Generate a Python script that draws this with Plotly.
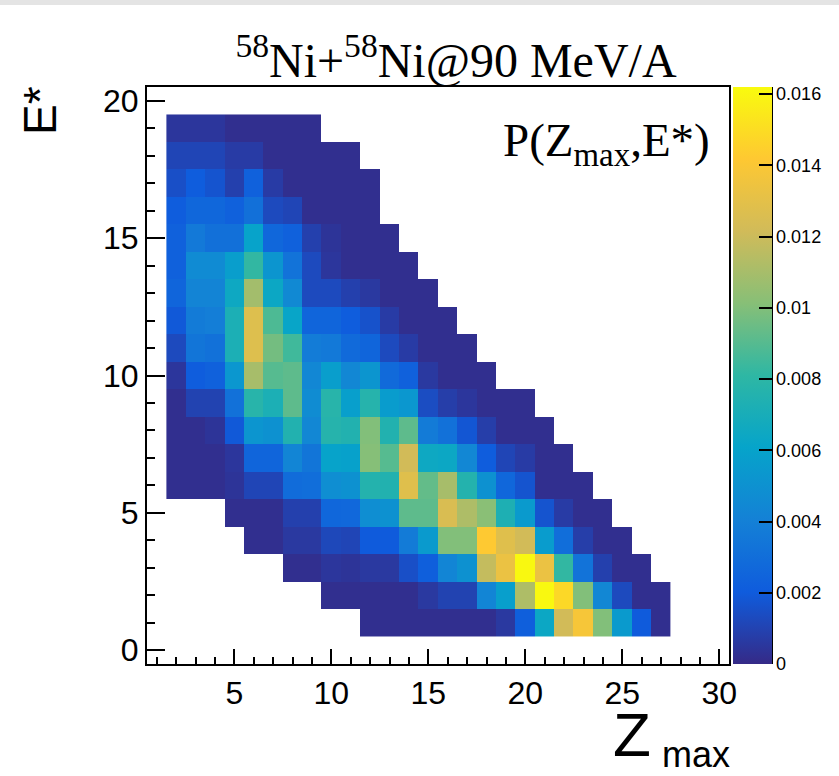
import plotly.graph_objects as go

# Bin centres
zmax_bins = list(range(2, 28))      # Z_max = 2 ... 27
estar_bins = list(range(1, 20))     # E* = 1 ... 19

# P(Z_max, E*) per E* row, in units of 1e-4, listed from Z_max = 2 to 27 (None = empty bin)
N = None
p_E19 = [5, 5, 5, 2, 2, 2, 2, 2] + [N] * 18
p_E18 = [11, 11, 11, 7, 7, 2, 2, 2, 2, 2] + [N] * 16
p_E17 = [15, 21, 17, 9, 23, 7, 2, 2, 2, 2, 2] + [N] * 15
p_E16 = [21, 26, 26, 23, 31, 13, 11, 2, 2, 2, 2] + [N] * 15
p_E15 = [23, 36, 31, 31, 60, 26, 23, 9, 4, 2, 2, 2] + [N] * 14
p_E14 = [23, 46, 46, 57, 82, 52, 33, 13, 5, 2, 2, 2, 2] + [N] * 13
p_E13 = [25, 42, 42, 65, 109, 64, 45, 13, 13, 9, 6, 2, 2, 2] + [N] * 12
p_E12 = [19, 37, 39, 72, 127, 88, 62, 25, 25, 21, 16, 7, 2, 2, 2] + [N] * 11
p_E11 = [13, 34, 32, 72, 127, 97, 85, 38, 36, 28, 25, 13, 7, 2, 2, 2] + [N] * 10
p_E10 = [5, 21, 23, 53, 110, 90, 92, 44, 57, 44, 52, 28, 23, 6, 2, 2, 2] + [N] * 9
p_E9 = [2, 10, 10, 32, 78, 72, 92, 47, 78, 58, 77, 56, 53, 14, 8, 5, 2, 2, 2] + [N] * 7
p_E8 = [2, 2, 4, 19, 52, 50, 75, 44, 77, 75, 100, 75, 92, 37, 32, 18, 8, 2, 2, 2] + [N] * 6
p_E7 = [2, 2, 2, 5, 25, 25, 43, 34, 60, 59, 101, 90, 122, 65, 64, 44, 21, 11, 7, 2, 2] + [N] * 5
p_E6 = [2, 2, 2, 4, 11, 11, 29, 30, 48, 50, 76, 75, 128, 93, 110, 76, 50, 26, 17, 2, 2, 2] + [N] * 4
p_E5 = [N] * 3 + [2, 2, 2, 9, 9, 26, 27, 48, 50, 92, 92, 125, 112, 102, 73, 55, 17, 7, 2, 2] + [N] * 3
p_E4 = [N] * 4 + [2, 2, 6, 6, 12, 11, 20, 20, 37, 55, 100, 100, 142, 128, 122, 56, 30, 8, 2, 2] + [N] * 2
p_E3 = [N] * 6 + [2, 2, 5, 4, 6, 6, 15, 22, 43, 50, 118, 133, 161, 133, 82, 33, 9, 2, 2] + [N]
p_E2 = [N] * 8 + [2, 2, 2, 2, 2, 6, 10, 10, 43, 58, 112, 161, 148, 100, 44, 13, 2, 2]
p_E1 = [N] * 10 + [2, 2, 2, 2, 2, 2, 2, 6, 22, 64, 122, 138, 100, 55, 20, 2]

rows = [p_E1, p_E2, p_E3, p_E4, p_E5, p_E6, p_E7, p_E8, p_E9, p_E10,
        p_E11, p_E12, p_E13, p_E14, p_E15, p_E16, p_E17, p_E18, p_E19]
z = [[None if v is None else v * 1e-4 for v in r] for r in rows]

# colour bar ticks
cb_vals = [0, 0.002, 0.004, 0.006, 0.008, 0.01, 0.012, 0.014, 0.016]
cb_text = ["0", "0.002", "0.004", "0.006", "0.008", "0.01", "0.012", "0.014", "0.016"]

# ROOT "bird" palette
stops = [0.0, 0.125, 0.25, 0.375, 0.5, 0.625, 0.75, 0.875, 1.0]
red = [0.2082, 0.0592, 0.0780, 0.0232, 0.1802, 0.5301, 0.8186, 0.9956, 0.9764]
green = [0.1664, 0.3599, 0.5041, 0.6419, 0.7178, 0.7492, 0.7328, 0.7862, 0.9832]
blue = [0.5293, 0.8684, 0.8385, 0.7914, 0.6425, 0.4662, 0.3499, 0.1968, 0.0539]
bird = [[s, "rgb(%d,%d,%d)" % (round(r * 255), round(g * 255), round(b * 255))]
        for s, r, g, b in zip(stops, red, green, blue)]

W, H = 839, 776
L, R, T, B = 147, 110, 87, 112
pw, ph = W - L - R, H - T - B


def px(xpix):
    return (xpix - L) / pw


def py(ypix):
    return (H - B - ypix) / ph


SANS = "Liberation Sans, Arial, sans-serif"
SERIF = "Liberation Serif, Times New Roman, serif"

fig = go.Figure(go.Heatmap(
    x=zmax_bins, y=estar_bins, z=z,
    colorscale=bird, zmin=0, zmax=0.0162,
    hoverongaps=False,
    colorbar=dict(
        thickness=39, thicknessmode="pixels",
        len=1, lenmode="fraction", y=0.5, yanchor="middle", ypad=0,
        x=px(733), xanchor="left", xpad=0,
        outlinewidth=0,
        tickmode="array", tickvals=cb_vals, ticktext=cb_text,
        ticks="inside", ticklen=13, tickwidth=2, tickcolor="black",
        tickfont=dict(family=SANS, size=18, color="black"),
    ),
))

fig.update_xaxes(
    range=[0.5, 30.5], tickmode="linear", tick0=0, dtick=5,
    ticks="inside", ticklen=15, tickwidth=2, tickcolor="black",
    minor=dict(dtick=1, ticks="inside", ticklen=7, tickwidth=2, tickcolor="black"),
    showline=True, linecolor="black", linewidth=2, mirror=True,
    showgrid=False, zeroline=False,
    tickfont=dict(family=SANS, size=32, color="black"),
)
fig.update_yaxes(
    range=[-0.5, 20.5], tickmode="linear", tick0=0, dtick=5,
    ticks="inside", ticklen=18, tickwidth=2, tickcolor="black",
    minor=dict(dtick=1, ticks="inside", ticklen=8, tickwidth=2, tickcolor="black"),
    showline=True, linecolor="black", linewidth=2, mirror=True,
    showgrid=False, zeroline=False,
    tickfont=dict(family=SANS, size=32, color="black"),
)

annotations = [
    dict(text="P(Z<sub>max</sub>,E*)", x=px(712), y=py(112), xref="paper", yref="paper",
         xanchor="right", yanchor="top", showarrow=False,
         font=dict(family=SERIF, size=47, color="black")),
    dict(text="Z", x=px(632), y=py(734), xref="paper", yref="paper",
         xanchor="center", yanchor="middle", showarrow=False,
         font=dict(family=SANS, size=62, color="black")),
    dict(text="max", x=px(660), y=py(754), xref="paper", yref="paper",
         xanchor="left", yanchor="middle", showarrow=False,
         font=dict(family=SANS, size=36, color="black")),
    dict(text="E*", x=px(40), y=py(110), xref="paper", yref="paper",
         xanchor="center", yanchor="middle", showarrow=False, textangle=-90,
         font=dict(family=SANS, size=46, color="black")),
]

shapes = [
    # right edge of the colour bar axis
    dict(type="line", xref="paper", yref="paper", x0=px(772), x1=px(772), y0=0, y1=1,
         line=dict(color="black", width=2)),
    # thin grey strip along the top of the canvas
    dict(type="rect", xref="paper", yref="paper", x0=px(-5), x1=px(W + 5),
         y0=py(5), y1=py(-5), fillcolor="#e4e4e4", line=dict(width=0), layer="below"),
]

fig.update_layout(
    width=W, height=H,
    margin=dict(l=L, r=R, t=T, b=B, pad=0, autoexpand=False),
    paper_bgcolor="white", plot_bgcolor="white",
    title=dict(text="<sup>58</sup>Ni+<sup>58</sup>Ni@90 MeV/A",
               x=px(456), xanchor="center", xref="paper",
               y=1 - 60 / H, yanchor="middle",
               font=dict(family=SERIF, size=48, color="black")),
    annotations=annotations,
    shapes=shapes,
    showlegend=False,
)

fig.write_html("out.html")
